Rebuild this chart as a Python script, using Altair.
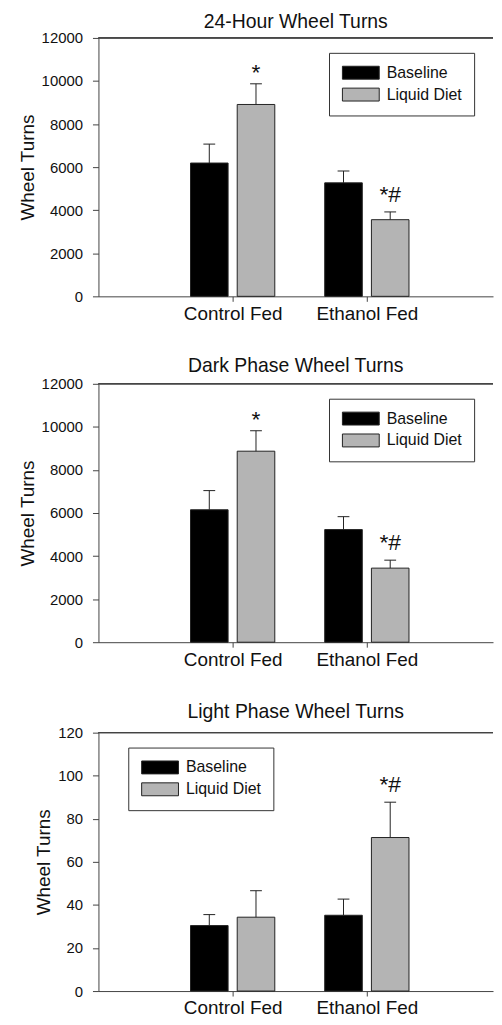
import altair as alt
import pandas as pd

# ---------------- data ----------------
groups = ["Control Fed", "Ethanol Fed"]
series = ["Baseline", "Liquid Diet"]
titles = ["24-Hour Wheel Turns", "Dark Phase Wheel Turns", "Light Phase Wheel Turns"]

# order: Control/Baseline, Control/Liquid, Ethanol/Baseline, Ethanol/Liquid
p1_mean = [6190, 8910, 5270, 3560]
p1_err = [880, 960, 550, 360]
p1_sig = ["", "*", "", "*#"]

p2_mean = [6150, 8870, 5230, 3440]
p2_err = [890, 950, 600, 370]
p2_sig = ["", "*", "", "*#"]

p3_mean = [30.4, 34.3, 35.2, 71.3]
p3_err = [5.1, 12.3, 7.5, 16.4]
p3_sig = ["", "", "", "*#"]

y_max = [12000, 12000, 120]
y_step = [2000, 2000, 20]

# ---------------- layout / style ----------------
FONT = "Liberation Sans"
W, H = 397, 260
X_DOMAIN = 2.94
OFFSET = 0.174
HALF = 0.140
CAP = 0.044
AX = "#444444"
TXT = "#111111"
GRAY = "#b4b4b4"
legend_pos = [(232, 15), (232, 15), (30, 15)]
title_offset = [-1, 0, 3]
# wide rectangle swatch as a custom symbol path
SWATCH = "M-2.85,-1L2.85,-1L2.85,1L-2.85,1Z"


def frame(means, errs, sigs):
    rows = []
    k = 0
    for gi, g in enumerate(groups):
        for si, s in enumerate(series):
            c = gi + 1 + (-OFFSET if si == 0 else OFFSET)
            rows.append(dict(group=g, series=s, mean=means[k], top=means[k] + errs[k],
                             sig=sigs[k], center=c, x0=c - HALF, x1=c + HALF,
                             c0=c - CAP, c1=c + CAP))
            k += 1
    return pd.DataFrame(rows)


label_expr = " : ".join(
    [f"datum.value == {i + 1} ? '{g}'" for i, g in enumerate(groups)]) + " : ''"

xscale = alt.Scale(domain=[0, X_DOMAIN], nice=False, zero=False)
xaxis = alt.Axis(values=[1, 2], labelExpr=label_expr, title=None, grid=False,
                 tickSize=5, labelFontSize=19, labelPadding=3, domainColor=AX,
                 tickColor=AX, labelColor=TXT, labelFont=FONT)


def panel(i, means, errs, sigs):
    df = frame(means, errs, sigs)
    ymax = y_max[i]
    yscale = alt.Scale(domain=[0, ymax], nice=False)
    yaxis = alt.Axis(values=list(range(0, ymax + 1, y_step[i])), format="d",
                     title="Wheel Turns", grid=False, tickSize=6,
                     labelFontSize=15, labelPadding=10, titleFontSize=19,
                     titleFontWeight="normal", titlePadding=4, titleColor=TXT,
                     labelColor=TXT, domainColor=AX, tickColor=AX,
                     labelFont=FONT, titleFont=FONT)
    base = alt.Chart(df)
    lx, ly = legend_pos[i]
    bars = base.mark_bar(stroke="#222222", strokeWidth=1).encode(
        x=alt.X("x0:Q", scale=xscale, axis=xaxis),
        x2="x1:Q",
        y=alt.Y("mean:Q", scale=yscale, axis=yaxis),
        y2=alt.datum(0),
        color=alt.Color("series:N",
                        scale=alt.Scale(domain=series, range=["#000000", GRAY]),
                        legend=alt.Legend(title=None, orient="none", legendX=lx,
                                          legendY=ly, symbolType=SWATCH,
                                          symbolSize=169, symbolStrokeColor="#222222",
                                          symbolStrokeWidth=1, symbolOffset=12,
                                          labelOffset=18, labelFontSize=16,
                                          labelFont=FONT, labelColor=TXT,
                                          rowPadding=4, padding=12,
                                          strokeColor="#333333", fillColor="white")),
    )
    err = base.mark_rule(color="#222222", strokeWidth=1).encode(
        x=alt.X("center:Q", scale=xscale, axis=xaxis),
        y=alt.Y("mean:Q", scale=yscale, axis=yaxis),
        y2="top:Q",
    )
    cap = base.mark_rule(color="#222222", strokeWidth=1).encode(
        x=alt.X("c0:Q", scale=xscale, axis=xaxis),
        x2="c1:Q",
        y=alt.Y("top:Q", scale=yscale, axis=yaxis),
    )
    star = base.transform_filter("datum.sig == '*'").mark_text(
        dy=-11, fontSize=23, font=FONT, color=TXT, baseline="middle").encode(
        x=alt.X("center:Q", scale=xscale, axis=xaxis),
        y=alt.Y("top:Q", scale=yscale, axis=yaxis),
        text="sig:N",
    )
    starhash = base.transform_filter("datum.sig == '*#'").mark_text(
        dy=-17, fontSize=23, font=FONT, color=TXT, baseline="middle").encode(
        x=alt.X("center:Q", scale=xscale, axis=xaxis),
        y=alt.Y("top:Q", scale=yscale, axis=yaxis),
        text="sig:N",
    )
    top = base.mark_rule(color=AX, strokeWidth=1).encode(y=alt.datum(ymax))
    return alt.layer(bars, err, cap, star, starhash, top).properties(
        width=W, height=H,
        title=alt.TitleParams(titles[i], fontSize=19.5, font=FONT,
                              fontWeight="normal", color=TXT,
                              offset=title_offset[i]),
    )


chart = alt.vconcat(
    panel(0, p1_mean, p1_err, p1_sig),
    panel(1, p2_mean, p2_err, p2_sig),
    panel(2, p3_mean, p3_err, p3_sig),
    spacing=33,
).resolve_legend(color="independent").properties(
    padding={"left": 10, "top": 0, "right": 0, "bottom": -2}
).configure_view(strokeWidth=0)

chart.save("out.html", embed_options={"renderer": "svg", "actions": False})
